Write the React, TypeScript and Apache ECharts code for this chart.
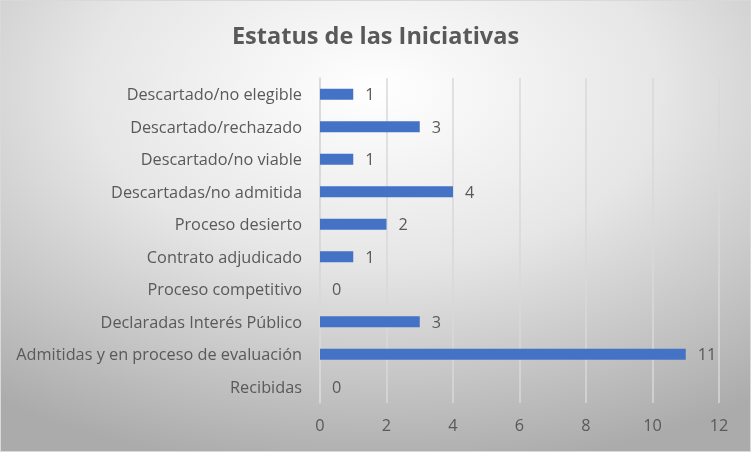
import React, { useEffect, useRef } from "react";
import * as echarts from "echarts";

const titleText = "Estatus de las Iniciativas";
const categories = [
  "Descartado/no elegible",
  "Descartado/rechazado",
  "Descartado/no viable",
  "Descartadas/no admitida",
  "Proceso desierto",
  "Contrato adjudicado",
  "Proceso competitivo",
  "Declaradas Interés Público",
  "Admitidas y en proceso de evaluación",
  "Recibidas",
];
const values = [1, 3, 1, 4, 2, 1, 0, 3, 11, 0];
const xMin = 0;
const xMax = 12;
const xInterval = 2;

const FONT = "Open Sans";
const TEXT = "#595959";

export default function App() {
  const ref = useRef<HTMLDivElement>(null);
  useEffect(() => {
    if (!ref.current) return;
    const chart = echarts.init(ref.current, undefined, { renderer: "svg" });
    chart.setOption({
      animation: false,
      graphic: [
        {
          type: "rect",
          z: -100,
          silent: true,
          shape: { x: 0, y: 0, width: 751, height: 452 },
          style: {
            fill: {
              type: "radial",
              x: 0.5,
              y: 0.2,
              r: 0.85,
              colorStops: [
                { offset: 0, color: "#ffffff" },
                { offset: 0.45, color: "#e6e6e6" },
                { offset: 1, color: "#ababab" },
              ],
            },
            stroke: "#d9d9d9",
            lineWidth: 2,
          },
        },
      ],
      title: {
        text: titleText,
        left: "center",
        top: 18,
        textStyle: {
          fontFamily: FONT,
          fontWeight: "bold",
          fontSize: 23.5,
          color: TEXT,
        },
      },
      grid: { left: 320, right: 32, top: 78, bottom: 49, containLabel: false },
      xAxis: {
        type: "value",
        min: xMin,
        max: xMax,
        interval: xInterval,
        axisLine: { show: false },
        axisTick: { show: false },
        axisLabel: {
          color: TEXT,
          fontFamily: FONT,
          fontSize: 16.3,
          margin: 14,
        },
        splitLine: { show: true, lineStyle: { color: "#d9d9d9", width: 1.5 } },
      },
      yAxis: {
        type: "category",
        data: categories,
        inverse: true,
        axisLine: { show: true, lineStyle: { color: "#d9d9d9", width: 1.5 } },
        axisTick: { show: false },
        axisLabel: {
          color: TEXT,
          fontFamily: FONT,
          fontSize: 16.3,
          margin: 18,
        },
      },
      series: [
        {
          type: "bar",
          data: values,
          barWidth: 11,
          itemStyle: { color: "#4472C4" },
          label: {
            show: true,
            position: "right",
            distance: 12,
            color: TEXT,
            fontFamily: FONT,
            fontSize: 16.3,
          },
        },
      ],
    });
    return () => chart.dispose();
  }, []);
  return (
    <div
      ref={ref}
      style={{ position: "fixed", left: 0, top: 0, width: 751, height: 452 }}
    />
  );
}
